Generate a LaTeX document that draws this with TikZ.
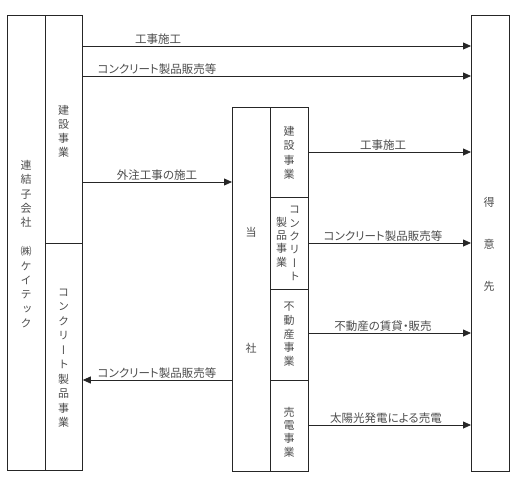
\documentclass[tikz,border=0pt]{standalone}
\usepackage{fontspec}
\newfontfamily\cjkh[RawFeature=+palt]{Noto Sans CJK JP}
\newfontfamily\cjkv[RawFeature=+vert]{Noto Sans CJK JP}
\usetikzlibrary{arrows.meta}
\definecolor{ink}{gray}{0.15}
\definecolor{txt}{gray}{0.3}
\tikzset{
  box/.style={draw=ink, line width=0.8pt, anchor=north west, inner sep=0pt, minimum width=#1},
  box/.default=38pt,
  vtext/.style={text=txt, align=center, inner sep=0pt, font=\cjkv\fontsize{11}{#1}\selectfont},
  vtext/.default=14.4pt,
  lab/.style={text=txt, inner sep=0pt, font=\cjkh\fontsize{11.5}{13}\selectfont},
  arr/.style={draw=ink, line width=0.8pt, -{Triangle[length=8pt,width=7pt]}}
}
\begin{document}
\begin{tikzpicture}[x=1pt,y=-1pt]
\useasboundingbox (0,0) rectangle (516,487);
% boxes
\node[box, minimum height=455pt] (ren) at (7,15) {};
\node[box=37pt, minimum height=228pt] (kenL) at (45,15) {};
\node[box=37pt, minimum height=227pt] (concL) at (45,243) {};
\node[box, minimum height=364pt] (tosha) at (232,107) {};
\node[box, minimum height=90pt] (kenR) at (270,107) {};
\node[box, minimum height=92pt] (concR) at (270,197) {};
\node[box, minimum height=91pt] (fudo) at (270,289) {};
\node[box, minimum height=91pt] (bai) at (270,380) {};
\node[box, minimum height=456pt] (tokui) at (471,15) {};
% vertical texts
\node[vtext] (tRen) at (26,244) {連\\結\\子\\会\\社\\[14.4pt]㈱\\ケ\\イ\\テ\\ッ\\ク};
\node[vtext=14pt] (tKenL) at (63.5,131) {建\\設\\事\\業};
\node[vtext=14.5pt] (tConcL) at (63.5,358) {コ\\ン\\ク\\リ\\ー\\ト\\製\\品\\事\\業};
\node[vtext] (tTosha) at (251,290) {当\\[101.5pt]社};
\node[vtext=14.3pt] (tKenR) at (289,153) {建\\設\\事\\業};
\node[vtext=13.4pt] (tConcR1) at (294.5,243.5) {コ\\ン\\ク\\リ\\ー\\ト};
\node[vtext=13.4pt] (tConcR2) at (281.5,242) {製\\品\\事\\業};
\node[vtext=13.7pt] (tFudo) at (289,334.5) {不\\動\\産\\事\\業};
\node[vtext=13.4pt] (tBai) at (289,432) {売\\電\\事\\業};
\node[vtext=42pt] (tTokui) at (489,244) {得\\意\\先};
% arrow levels
\coordinate (yA1) at (0,46);
\coordinate (yA2) at (0,76);
\coordinate (yA3) at (0,182);
\coordinate (yA4) at (0,380);
\coordinate (yB1) at (0,152);
\coordinate (yB2) at (0,243);
\coordinate (yB3) at (0,333);
\coordinate (yB4) at (0,425);
% arrows
\draw[arr] (kenL.east |- yA1) -- (tokui.west |- yA1);
\draw[arr] (kenL.east |- yA2) -- (tokui.west |- yA2);
\draw[arr] (kenL.east |- yA3) -- (tosha.west |- yA3);
\draw[arr] (tosha.west |- yA4) -- (concL.east |- yA4);
\draw[arr] (kenR.east |- yB1) -- (tokui.west |- yB1);
\draw[arr] (concR.east |- yB2) -- (tokui.west |- yB2);
\draw[arr] (fudo.east |- yB3) -- (tokui.west |- yB3);
\draw[arr] (bai.east |- yB4) -- (tokui.west |- yB4);
% labels
\node[lab] (lA1) at (158,39.5) {工事施工};
\node[lab] (lA2) at (157,69.5) {コンクリート製品販売等};
\node[lab] (lA3) at (157,175.5) {外注工事の施工};
\node[lab] (lA4) at (157,373.5) {コンクリート製品販売等};
\node[lab] (lB1) at (383,145.5) {工事施工};
\node[lab] (lB2) at (383,236.5) {コンクリート製品販売等};
\node[lab] (lB3) at (383,326.5) {不動産の賃貸・販売};
\node[lab] (lB4) at (386,418.5) {太陽光発電による売電};
\end{tikzpicture}
\end{document}
